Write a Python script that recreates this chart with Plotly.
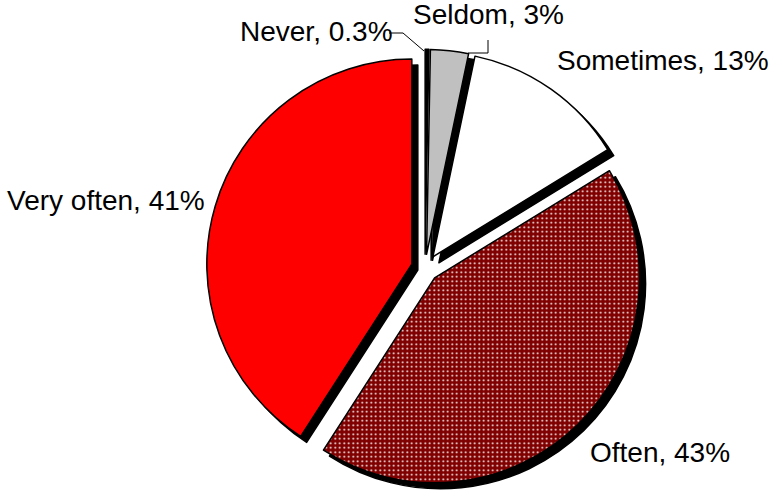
import plotly.graph_objects as go

W, H = 771, 495

labels = ["Never", "Seldom", "Sometimes", "Often", "Very often"]
values = [0.3, 3, 13, 43, 41]
colors = ["#000000", "#C0C0C0", "#FFFFFF", "#800000", "#FF0000"]
patterns = ["", "", "", ".", ""]
label_text = ["Never, 0.3%", "Seldom, 3%", "Sometimes, 13%", "Often, 43%", "Very often, 41%"]

# label anchor points in pixels (left edge, vertical middle)
label_px = [(238, 32), (411, 15), (555, 60), (588, 452), (5, 201)]

PULL = 0.067
CX, CY, R = 425, 268, 205
SHADOW = 6


def px_x(x):
    return x / W


def px_y(y):
    return 1 - y / H


def domain(dx=0, dy=0):
    half = R * (1 + PULL)
    return dict(
        x=[px_x(CX - half + dx), px_x(CX + half + dx)],
        y=[px_y(CY + half + dy), px_y(CY - half + dy)],
    )


fig = go.Figure()

# drop shadow: same pie, black, shifted right/down
fig.add_trace(go.Pie(
    labels=labels, values=values, sort=False, direction="clockwise", rotation=0,
    pull=[PULL] * len(values), textinfo="none", hoverinfo="skip", showlegend=False,
    marker=dict(colors=["#000000"] * len(values), line=dict(color="#000000", width=1.5)),
    domain=domain(SHADOW, SHADOW), automargin=False,
))

fig.add_trace(go.Pie(
    labels=labels, values=values, sort=False, direction="clockwise", rotation=0,
    pull=[PULL] * len(values), textinfo="none", hoverinfo="skip", showlegend=False,
    marker=dict(
        colors=colors,
        line=dict(color="#000000", width=1.5),
        pattern=dict(
            shape=patterns, bgcolor=colors, fgcolor=["#FFFFFF"] * len(values),
            fillmode="replace", size=4.5, solidity=0.15,
        ),
    ),
    domain=domain(), automargin=False,
))

for text, (x, y) in zip(label_text, label_px):
    fig.add_annotation(
        x=px_x(x), y=px_y(y), xref="paper", yref="paper",
        text=text, showarrow=False, xanchor="left", yanchor="middle",
        font=dict(family="Liberation Sans, Arial", size=28, color="#000000"),
    )

# leader lines for the small slices
leaders = [
    [(389, 33), (403, 33), (424, 51)],
    [(488, 40), (488, 53), (468, 53)],
]
for pts in leaders:
    for (x0, y0), (x1, y1) in zip(pts[:-1], pts[1:]):
        fig.add_shape(
            type="line", xref="paper", yref="paper",
            x0=px_x(x0), y0=px_y(y0), x1=px_x(x1), y1=px_y(y1),
            line=dict(color="#000000", width=1),
        )

fig.update_layout(
    width=W, height=H,
    margin=dict(l=0, r=0, t=0, b=0),
    paper_bgcolor="#FFFFFF", plot_bgcolor="#FFFFFF",
)

fig.write_html(
    "out.html",
    config={"displayModeBar": False},
    post_script="document.body.style.margin = '0';",
)
